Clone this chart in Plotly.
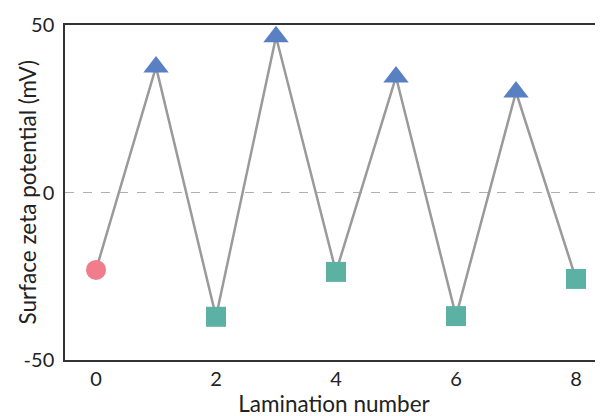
import plotly.graph_objects as go

lamination = [0, 1, 2, 3, 4, 5, 6, 7, 8]
zeta = [-23.1, 37.5, -37.1, 46.5, -23.7, 34.5, -36.9, 30.0, -25.8]

start_x = [0]
start_y = [-23.1]
pos_x = [1, 3, 5, 7]
pos_y = [37.5, 46.5, 34.5, 30.0]
neg_x = [2, 4, 6, 8]
neg_y = [-37.1, -23.7, -36.9, -25.8]

x_ticks = [0, 2, 4, 6, 8]
y_ticks = [-50, 0, 50]
y_tick_text = ["-50", "0", "50"]

FONT = "Lato"

fig = go.Figure()
fig.add_hline(y=0, line=dict(color="#b0b0b0", width=1, dash="dash"), layer="below")
fig.add_trace(go.Scatter(x=lamination, y=zeta, mode="lines",
                         line=dict(color="#9a9a9a", width=2.5), showlegend=False))
fig.add_trace(go.Scatter(x=start_x, y=start_y, mode="markers",
                         marker=dict(symbol="circle", size=20, color="#F07C8C"), showlegend=False))
fig.add_trace(go.Scatter(x=pos_x, y=pos_y, mode="markers",
                         marker=dict(symbol="triangle-up", size=22, color="#5A80C4"), showlegend=False))
fig.add_trace(go.Scatter(x=neg_x, y=neg_y, mode="markers",
                         marker=dict(symbol="square", size=20, color="#5BB1A3"), showlegend=False))

fig.update_layout(
    width=603, height=416,
    margin=dict(l=57, r=8, t=17, b=64, autoexpand=False),
    paper_bgcolor="white", plot_bgcolor="white",
    font=dict(family=FONT, size=20, color="#222"),
)
fig.update_xaxes(range=[-0.517, 8.45], tickvals=x_ticks, showgrid=False, zeroline=False,
                 showline=True, linecolor="#333", linewidth=1.5, mirror=True, ticks="",
                 ticklabelstandoff=0, automargin=False,
                 title=dict(text="Lamination number", standoff=0, font=dict(size=22.5)))
fig.update_yaxes(range=[-50, 50], tickvals=y_ticks, ticktext=y_tick_text, showgrid=False,
                 zeroline=False, showline=True, linecolor="#333", linewidth=1.5, ticks="",
                 ticklabelstandoff=5, automargin=False)
fig.add_annotation(text="Surface zeta potential (mV)", xref="paper", yref="paper",
                   x=-0.0706, y=0.5, xanchor="center", yanchor="middle", textangle=-90,
                   showarrow=False, font=dict(size=22.5))

fig.write_html("out.html")
